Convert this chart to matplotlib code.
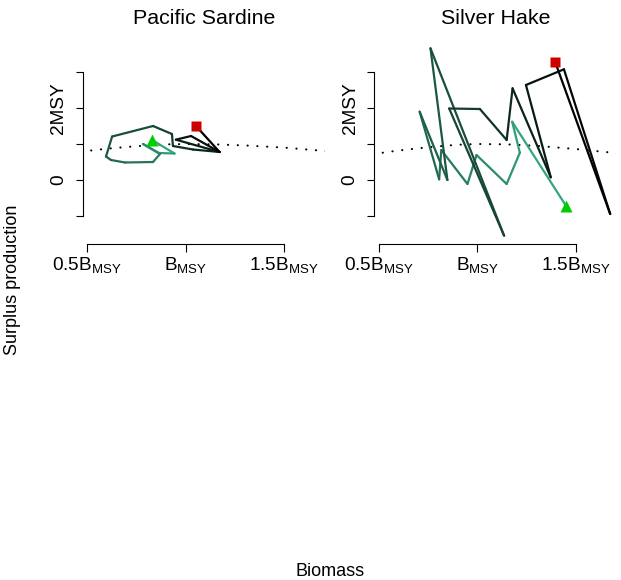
import matplotlib
matplotlib.use("Agg")
import matplotlib.pyplot as plt
from matplotlib.colors import LinearSegmentedColormap

plt.rcParams['font.family'] = ['Liberation Sans', 'DejaVu Sans']
plt.rcParams['mathtext.fontset'] = 'custom'
plt.rcParams['mathtext.rm'] = 'Liberation Sans'
plt.rcParams['mathtext.it'] = 'Liberation Sans:italic'

# biomass / B_MSY and surplus production / MSY
sardine_b = [0.829, 0.943, 0.864, 0.783, 0.869, 0.834, 0.692, 0.620, 0.595, 0.626,
             0.834, 0.930, 0.935, 1.037, 1.172, 0.950, 1.027, 1.172, 1.052]
sardine_p = [1.111, 0.736, 0.750, 1.000, 0.722, 0.500, 0.486, 0.556, 0.653, 1.208,
             1.500, 1.278, 0.944, 0.847, 0.778, 1.120, 1.222, 0.778, 1.500]

hake_b = [1.451, 1.177, 1.216, 1.149, 0.996, 0.950, 0.817, 0.806, 0.707, 0.848, 0.762,
          1.136, 0.857, 1.013, 1.149, 1.179, 1.373, 1.247, 1.440, 1.675, 1.396]
hake_p = [-0.722, 1.619, 0.758, -0.111, 0.694, -0.111, 0.833, 0.019, 1.897, 0.000, 3.658,
          -1.547, 1.986, 1.972, 1.111, 2.547, 0.075, 2.639, 3.075, -0.944, 3.269]

# production curves (dotted)
curve_b = [0.47, 0.60, 0.75, 0.90, 1.00, 1.15, 1.30, 1.50, 1.72]
sardine_curve = [0.79, 0.87, 0.94, 0.99, 1.00, 0.99, 0.96, 0.90, 0.80]
hake_curve = [0.72, 0.82, 0.91, 0.98, 1.00, 0.99, 0.95, 0.86, 0.74]

titles = ['Pacific Sardine', 'Silver Hake']
xticks = [0.5, 1.0, 1.5]
xlabels = [r'$\mathregular{0.5B_{MSY}}$', r'$\mathregular{B_{MSY}}$', r'$\mathregular{1.5B_{MSY}}$']
yticks = [-1, 0, 1, 2, 3]
ylabels = ['', '0', '', '2MSY', '']

W, H = 621, 580
def box(l, r, t, b):
    return [l / W, 1 - b / H, (r - l) / W, (b - t) / H]

cmap = LinearSegmentedColormap.from_list('traj', ['#34a57f', '#000000'])

fig = plt.figure(figsize=(6.21, 5.80), dpi=100)
ax1 = fig.add_axes(box(82.7, 324.7, 39.5, 243.5))
ax2 = fig.add_axes(box(374.3, 616.3, 39.5, 243.5))

panels = [(ax1, sardine_b, sardine_p, sardine_curve), (ax2, hake_b, hake_p, hake_curve)]
for k, (ax, b, p, curve) in enumerate(panels):
    ax.plot(curve_b, curve, color='black', lw=1.5, linestyle=(0, (0.1, 4.6)),
            dash_capstyle='round')
    n = len(b)
    for i in range(n - 1):
        ax.plot(b[i:i + 2], p[i:i + 2], color=cmap(i / (n - 2)), lw=1.6,
                solid_capstyle='round')
    ax.plot(b[0], p[0], marker='^', color='#00cd00', ms=9, mec='none', ls='none')
    ax.plot(b[-1], p[-1], marker='s', color='#cd0000', ms=7, mec='none', ls='none')

    ax.set_xlim(0.4766, 1.706)
    ax.set_ylim(-1.764, 3.903)
    ax.set_xticks(xticks)
    ax.set_xticklabels(xlabels)
    ax.set_yticks(yticks)
    ax.set_yticklabels(ylabels, rotation=90, va='center')
    ax.spines['top'].set_visible(False)
    ax.spines['right'].set_visible(False)
    ax.spines['left'].set_bounds(-1, 3)
    ax.spines['bottom'].set_bounds(0.5, 1.5)
    ax.spines['left'].set_linewidth(0.8)
    ax.spines['bottom'].set_linewidth(0.8)
    ax.tick_params(length=5.4, width=0.8, labelsize=13.7)
    ax.tick_params(axis='x', pad=3)
    ax.tick_params(axis='y', pad=5.8)
    ax.set_title(titles[k], fontsize=15.4, pad=11.5)

fig.text(13 / W, 1 - 280 / H, 'Surplus production', rotation=90, ha='center', va='center',
         fontsize=13)
fig.text(330 / W, 1 - 576 / H, 'Biomass', ha='center', va='baseline', fontsize=13)

fig.savefig('out.png', dpi=100)
